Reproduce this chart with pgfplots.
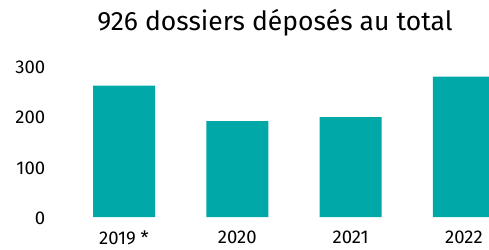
\documentclass[border=0pt]{standalone}
\usepackage{fontspec}
\setmainfont{Fira Sans}
\usepackage{pgfplots}
\pgfplotsset{compat=1.18}
\definecolor{barteal}{HTML}{00A8A8}
\begin{document}
\begin{tikzpicture}
\useasboundingbox (0,0) rectangle (489pt,249pt);
\node[font=\fontsize{26.5}{29}\selectfont, anchor=center] at (275pt,226pt) {926 dossiers déposés au total};
\begin{axis}[
  at={(67.35pt,32pt)}, anchor=south west,
  scale only axis, width=421.65pt, height=151.5pt,
  xmin=-0.5, xmax=3.2215, ymin=0, ymax=300,
  axis line style={draw=none}, major tick length=0pt,
  ybar, bar width=62pt, bar shift=0pt,
  xtick={0,1,2,3}, xticklabels={2019 *,2020,2021,2022},
  ytick={0,100,200,300},
  /pgf/number format/assume math mode=true,
  ticklabel style={font=\fontsize{18.5}{21}\selectfont},
  yticklabel style={inner sep=0pt, anchor=east, xshift=-22pt, yshift=-1.5pt},
  xticklabel style={inner sep=0pt, anchor=north, yshift=-13.5pt},
  clip=true,
]
\addplot[fill=barteal, draw=none] coordinates {(0,260) (1,190) (2,198) (3,278)};
\end{axis}
\end{tikzpicture}
\end{document}
